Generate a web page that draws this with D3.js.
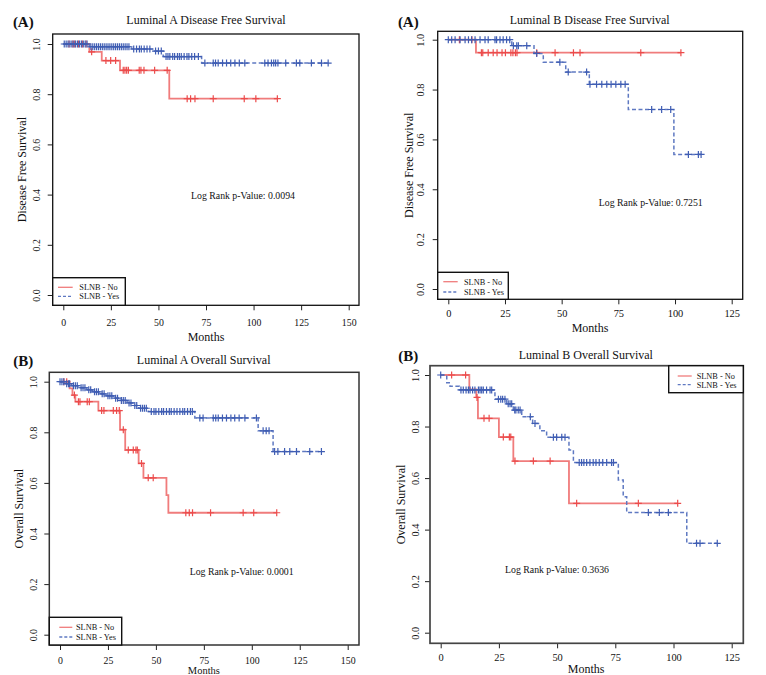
<!DOCTYPE html>
<html><head><meta charset="utf-8">
<script src="https://cdn.jsdelivr.net/npm/d3@7"></script>
<style>
body{margin:0;background:#fff}
svg{display:block}
text{font-family:"Liberation Serif","Times New Roman",serif;fill:#111}
</style>
</head><body>
<svg id="chart" width="766" height="675"></svg>
<script>
// ---------- DATA ----------
const groupLabels = ["SLNB - No", "SLNB - Yes"];
const yTickValues = [0, 0.2, 0.4, 0.6, 0.8, 1.0];
const xTicks150 = [0, 25, 50, 75, 100, 125, 150];
const xTicks125 = [0, 25, 50, 75, 100, 125];

// Panel 1: Luminal A Disease Free Survival
const laDfsNoStepT = [13.7, 20.2, 29.8, 55.7];
const laDfsNoStepS = [0.969, 0.934, 0.895, 0.782];
const laDfsNoCens = [3, 5, 6, 8, 10, 12, 14.9, 22.4, 24.9, 27.5, 31.5, 32.4, 33.3, 34.2, 39.9, 40.8, 42.4, 48, 54.6, 65.1, 66.9, 69.2, 78.8, 95.1, 101.2, 112.5];
const laDfsYesStepT = [13.7, 35.9, 47.8, 52.5, 72.7];
const laDfsYesStepS = [0.989, 0.98, 0.972, 0.95, 0.924];
const laDfsYesCens = [0.5, 1.5, 2.5, 3.5, 4.5, 5.5, 6.5, 7.5, 8.5, 9.5, 10.5, 11.5, 12.5,
  14.5, 15.5, 16.5, 17.5, 18.5, 19.5, 20.5, 21.5, 22.5, 23.5, 24.5, 25.5, 26.5, 27.5, 28.5, 29.5, 30.5, 31.5, 32.5, 33.5, 34.5,
  37, 38.5, 40, 41, 42.5, 44, 45.5, 48.5, 50, 51.5,
  54, 55, 56, 57.5, 58.5, 60, 61, 62, 63.5, 65, 66, 67.5, 69, 71,
  74.4, 78.8, 80, 81.4, 83.7, 85.8, 88, 90.2, 92.5, 95.4, 105.9, 107.6, 109.4, 110.6, 111.6, 112.8, 116.9, 122.5, 124.3, 130.4, 135.7, 139.2];

// Panel 2: Luminal B Disease Free Survival
const lbDfsNoStepT = [12.2];
const lbDfsNoStepS = [0.948];
const lbDfsNoCens = [4.9, 10.4, 14.6, 15.2, 17.6, 19.8, 21.5, 23.7, 25.2, 27.6, 28.5, 29.6, 30.3, 39, 47.1, 55.2, 58.1, 84.9, 102.6];
const lbDfsYesStepT = [28, 37.8, 41.9, 51.8, 62.2, 79.4, 99.5];
const lbDfsYesStepS = [0.976, 0.945, 0.91, 0.87, 0.821, 0.72, 0.54];
const lbDfsYesCens = [0, 1.5, 3, 5.2, 7.4, 8.9, 10.3, 11.8, 14, 16.2, 17.6, 20.6, 21.3, 22.8, 24.2, 25.7, 27.1,
  28.7, 30.2, 30.9, 34.6, 39, 49.2, 52.9, 61,
  62.5, 65.4, 67.7, 69.9, 71.8, 73.9, 76.1, 78, 89.7, 94.1, 98.1, 105.9, 110.3, 111.5];

// Panel 3: Luminal A Overall Survival
const laOsNoStepT = [5, 6.5, 8, 20, 31.3, 34, 41, 43.5, 55.5, 56.5];
const laOsNoStepS = [0.974, 0.947, 0.921, 0.886, 0.81, 0.73, 0.677, 0.62, 0.552, 0.482];
const laOsNoCens = [2, 3.5, 7.5, 9.6, 10.4, 14.2, 15.3, 21.7, 22.9, 27.8, 29.5, 30.9, 33, 35.6, 38.2, 39.6, 40.3, 42.5, 46, 48.6, 65.6, 67.4, 69.1, 78.5, 95.5, 101, 113];
const laOsYesStepT = [3, 6, 10, 14, 17, 21, 24, 28, 31, 35, 38, 41, 46, 70.3, 103.3, 111.1];
const laOsYesStepS = [0.992, 0.984, 0.976, 0.968, 0.96, 0.952, 0.944, 0.935, 0.926, 0.916, 0.906, 0.895, 0.882, 0.857, 0.806, 0.724];
const laOsYesCens = [0, 1, 2, 3.5, 4.5, 5, 7, 8, 9, 11, 12, 13, 15, 16, 18, 19, 20, 22, 23, 25, 26, 27, 29, 30, 32, 33, 34, 36, 37, 39, 40, 42, 43, 44, 45,
  47.6, 49, 50, 51.5, 53, 54, 55.5, 57, 58, 59.5, 61, 62.5, 64, 65, 66.5, 68, 69,
  72.9, 74.6, 79.9, 81.2, 82.5, 84.7, 86.8, 89.1, 91.1, 93.4, 96.4, 102.4,
  105.9, 107.5, 109, 111.9, 113.6, 117.1, 119.8, 123.3, 130.2, 136.3];

// Panel 4: Luminal B Overall Survival
const lbOsNoStepT = [12.3, 15.3, 16, 25, 31.2, 55.1];
const lbOsNoStepS = [0.944, 0.913, 0.832, 0.759, 0.666, 0.502];
const lbOsNoCens = [4.7, 10.7, 15.6, 18.6, 20.8, 26.9, 29.5, 30.1, 31.9, 39.8, 47, 58.4, 84.9, 101.8];
const lbOsYesStepT = [2.6, 4.0, 8.0, 23.3, 28.3, 31.2, 34.8, 39.5, 42.6, 45.5, 55.1, 57.0, 76.3, 78.4, 79.9, 105.7];
const lbOsYesStepS = [0.970, 0.956, 0.942, 0.906, 0.888, 0.864, 0.838, 0.812, 0.784, 0.758, 0.709, 0.660, 0.593, 0.528, 0.466, 0.347];
const lbOsYesCens = [0, 8.7, 9.7, 10.9, 11.9, 12.6, 13.7, 14.7, 16.2, 16.9, 17.6, 18.3, 19.7, 21.2, 21.9,
  24.8, 25.8, 26.6, 27.6, 29.0, 29.8, 30.5, 31.8, 32.3, 33.3, 34.1, 38.5, 40.5,
  48.4, 49.8, 52.0, 53.4, 59.5, 60.5, 61.5, 62.7, 64.1, 65.5, 66.7, 68.1, 69.6, 71.3, 73.4, 74.2,
  89.2, 93.9, 97.8, 109.9, 111.4, 118.8];

// ---------- LAYOUT ----------
const colNo = "#EC4B4B", colNoLine = "#F07C7C";
const colYes = "#3F5DB3", colYesLine = "#5F79C2";

const panels = [
  {tag:"(A)", title:"Luminal A Disease Free Survival", ylab:"Disease Free Survival", pval:"Log Rank p-Value: 0.0094",
   no:[laDfsNoStepT, laDfsNoStepS, laDfsNoCens], yes:[laDfsYesStepT, laDfsYesStepS, laDfsYesCens],
   box:[52.7,34,359,305.3], xd:150, xr:[63.3,348.7], yr:[295,44], xt:xTicks150, tickFs:9.8,
   xtlY:322.7, xlabY:337, xlabFs:12, ytlX:36.7, ylabX:21.7, titleXY:[206,20], tagXY:[23.3,21.5], pXY:[243,196],
   leg:[52.7,277.7,125.3,305.3], legLine:[58,72.7], legTx:79.3, legRows:[287.3,296.3], boxCol:"#111", boxW:1.3},
  {tag:"(A)", title:"Luminal B Disease Free Survival", ylab:"Disease Free Survival", pval:"Log Rank p-Value: 0.7251",
   no:[lbDfsNoStepT, lbDfsNoStepS, lbDfsNoCens], yes:[lbDfsYesStepT, lbDfsYesStepS, lbDfsYesCens],
   box:[437.7,31.3,742.7,299.3], xd:125, xr:[448.3,731.7], yr:[289,39.7], xt:xTicks125, tickFs:10.4,
   xtlY:313.3, xlabY:327.7, xlabFs:12, ytlX:420.7, ylabX:408.3, titleXY:[589.7,20], tagXY:[408.3,21.5], pXY:[650.8,202.7],
   leg:[437.7,272.3,508.3,299.3], legLine:[443.3,457.7], legTx:464, legRows:[281.7,292], boxCol:"#111", boxW:1.3},
  {tag:"(B)", title:"Luminal A Overall Survival", ylab:"Overall Survival", pval:"Log Rank p-Value: 0.0001",
   no:[laOsNoStepT, laOsNoStepS, laOsNoCens], yes:[laOsYesStepT, laOsYesStepS, laOsYesCens],
   box:[49.3,372.3,359,645], xd:150, xr:[60,347.7], yr:[634.7,381.7], xt:xTicks150, tickFs:9.8,
   xtlY:660.5, xlabY:670, xlabFs:10.5, ytlX:33.3, ylabX:18.3, titleXY:[203.7,360], tagXY:[23.3,360.5], pXY:[241.7,572],
   leg:[49.3,617.3,121.7,645], legLine:[59.3,72.3], legTx:76, legRows:[627.3,637], boxCol:"#333", boxW:1.5},
  {tag:"(B)", title:"Luminal B Overall Survival", ylab:"Overall Survival", pval:"Log Rank p-Value: 0.3636",
   no:[lbOsNoStepT, lbOsNoStepS, lbOsNoCens], yes:[lbOsYesStepT, lbOsYesStepS, lbOsYesCens],
   box:[430,365.7,743.3,643.3], xd:125, xr:[440.7,731.7], yr:[632.7,375], xt:xTicks125, tickFs:10.4,
   xtlY:657.7, xlabY:668.5, xlabFs:12, ytlX:415, ylabX:400.7, titleXY:[585.8,355], tagXY:[408.3,355.5], pXY:[557,569.3],
   leg:[668.7,365.7,743.3,392.7], legLine:[677.7,691.7], legTx:696.7, legRows:[376,384.7], boxCol:"#444", boxW:1.7}
];

// ---------- DRAW ----------
const svg = d3.select("#chart");
function survAt(T, S, t) { const i = d3.bisectRight(T, t); return i === 0 ? 1 : S[i-1]; }

panels.forEach(p => {
  const g = svg.append("g");
  const x = d3.scaleLinear().domain([0, p.xd]).range(p.xr);
  const y = d3.scaleLinear().domain([0, 1]).range(p.yr);
  const [L, T, R, B] = p.box;

  // x axis
  const xa = g.append("g").attr("transform", `translate(0,${B})`)
    .call(d3.axisBottom(x).tickValues(p.xt).tickSize(5).tickFormat(d3.format("d")));
  xa.select(".domain").remove();
  xa.selectAll("line").attr("stroke", "#222");
  xa.selectAll("text").attr("y", p.xtlY - B).attr("dy", "0.35em")
    .style("font-family", '"Liberation Serif",serif').style("font-size", p.tickFs + "px").attr("fill", "#111");

  // y axis
  const ya = g.append("g").attr("transform", `translate(${L},0)`)
    .call(d3.axisLeft(y).tickValues(yTickValues).tickSize(5).tickFormat(d3.format(".1f")));
  ya.select(".domain").remove();
  ya.selectAll("line").attr("stroke", "#222");
  ya.selectAll("text").attr("x", 0).attr("y", 0).attr("dy", "0.35em").attr("text-anchor", "middle")
    .attr("transform", `translate(${p.ytlX - L},0) rotate(-90)`)
    .style("font-family", '"Liberation Serif",serif').style("font-size", p.tickFs + "px").attr("fill", "#111");

  // curves
  const line = d3.line().curve(d3.curveStepAfter).x(d => x(d[0])).y(d => y(d[1]));
  const drawGroup = (grp, isYes) => {
    const [ST, SS, C] = grp;
    const end = Math.max(d3.max(C), ST[ST.length - 1]);
    const pts = [[0, 1]].concat(ST.map((t, i) => [t, SS[i]])).concat([[end, SS[SS.length - 1]]]);
    g.append("path").attr("d", line(pts)).attr("fill", "none")
      .attr("stroke", isYes ? colYesLine : colNoLine).attr("stroke-width", isYes ? 1.5 : 1.8)
      .attr("stroke-dasharray", isYes ? "4,2.5" : null);
    g.append("g").selectAll("path").data(C).join("path")
      .attr("d", t => { const cx = x(t), cy = y(survAt(ST, SS, t));
        return `M${cx-3.5},${cy}h7M${cx},${cy-3.5}v7`; })
      .attr("stroke", isYes ? colYes : colNo).attr("stroke-width", 1.2).attr("fill", "none");
  };
  drawGroup(p.no, false);
  drawGroup(p.yes, true);

  // box
  g.append("rect").attr("x", L).attr("y", T).attr("width", R - L).attr("height", B - T)
    .attr("fill", "none").attr("stroke", p.boxCol).attr("stroke-width", p.boxW);

  // texts
  g.append("text").attr("x", p.titleXY[0]).attr("y", p.titleXY[1]).attr("dy", "0.35em")
    .attr("text-anchor", "middle").style("font-size", "12px").text(p.title);
  g.append("text").attr("x", p.tagXY[0]).attr("y", p.tagXY[1]).attr("dy", "0.35em")
    .attr("text-anchor", "middle").style("font-size", "15px").style("font-weight", "bold").text(p.tag);
  g.append("text").attr("x", (p.xr[0] + p.xr[1]) / 2).attr("y", p.xlabY).attr("dy", "0.35em")
    .attr("text-anchor", "middle").style("font-size", p.xlabFs + "px").text("Months");
  g.append("text").attr("transform", `translate(${p.ylabX},${(T + B) / 2}) rotate(-90)`).attr("dy", "0.35em")
    .attr("text-anchor", "middle").style("font-size", "12px").text(p.ylab);
  g.append("text").attr("x", p.pXY[0]).attr("y", p.pXY[1]).attr("dy", "0.35em")
    .attr("text-anchor", "middle").style("font-size", "9.8px").text(p.pval);

  // legend
  const [lx0, ly0, lx1, ly1] = p.leg;
  g.append("rect").attr("x", lx0).attr("y", ly0).attr("width", lx1 - lx0).attr("height", ly1 - ly0)
    .attr("fill", "#fff").attr("stroke", "#111").attr("stroke-width", 1.4);
  groupLabels.forEach((lab, i) => {
    const yy = p.legRows[i];
    g.append("line").attr("x1", p.legLine[0]).attr("x2", p.legLine[1]).attr("y1", yy).attr("y2", yy)
      .attr("stroke", i ? colYesLine : colNoLine).attr("stroke-width", 1.3)
      .attr("stroke-dasharray", i ? "3,2" : null);
    g.append("text").attr("x", p.legTx).attr("y", yy).attr("dy", "0.35em")
      .style("font-size", "8.3px").text(lab);
  });
});
</script>
</body></html>
